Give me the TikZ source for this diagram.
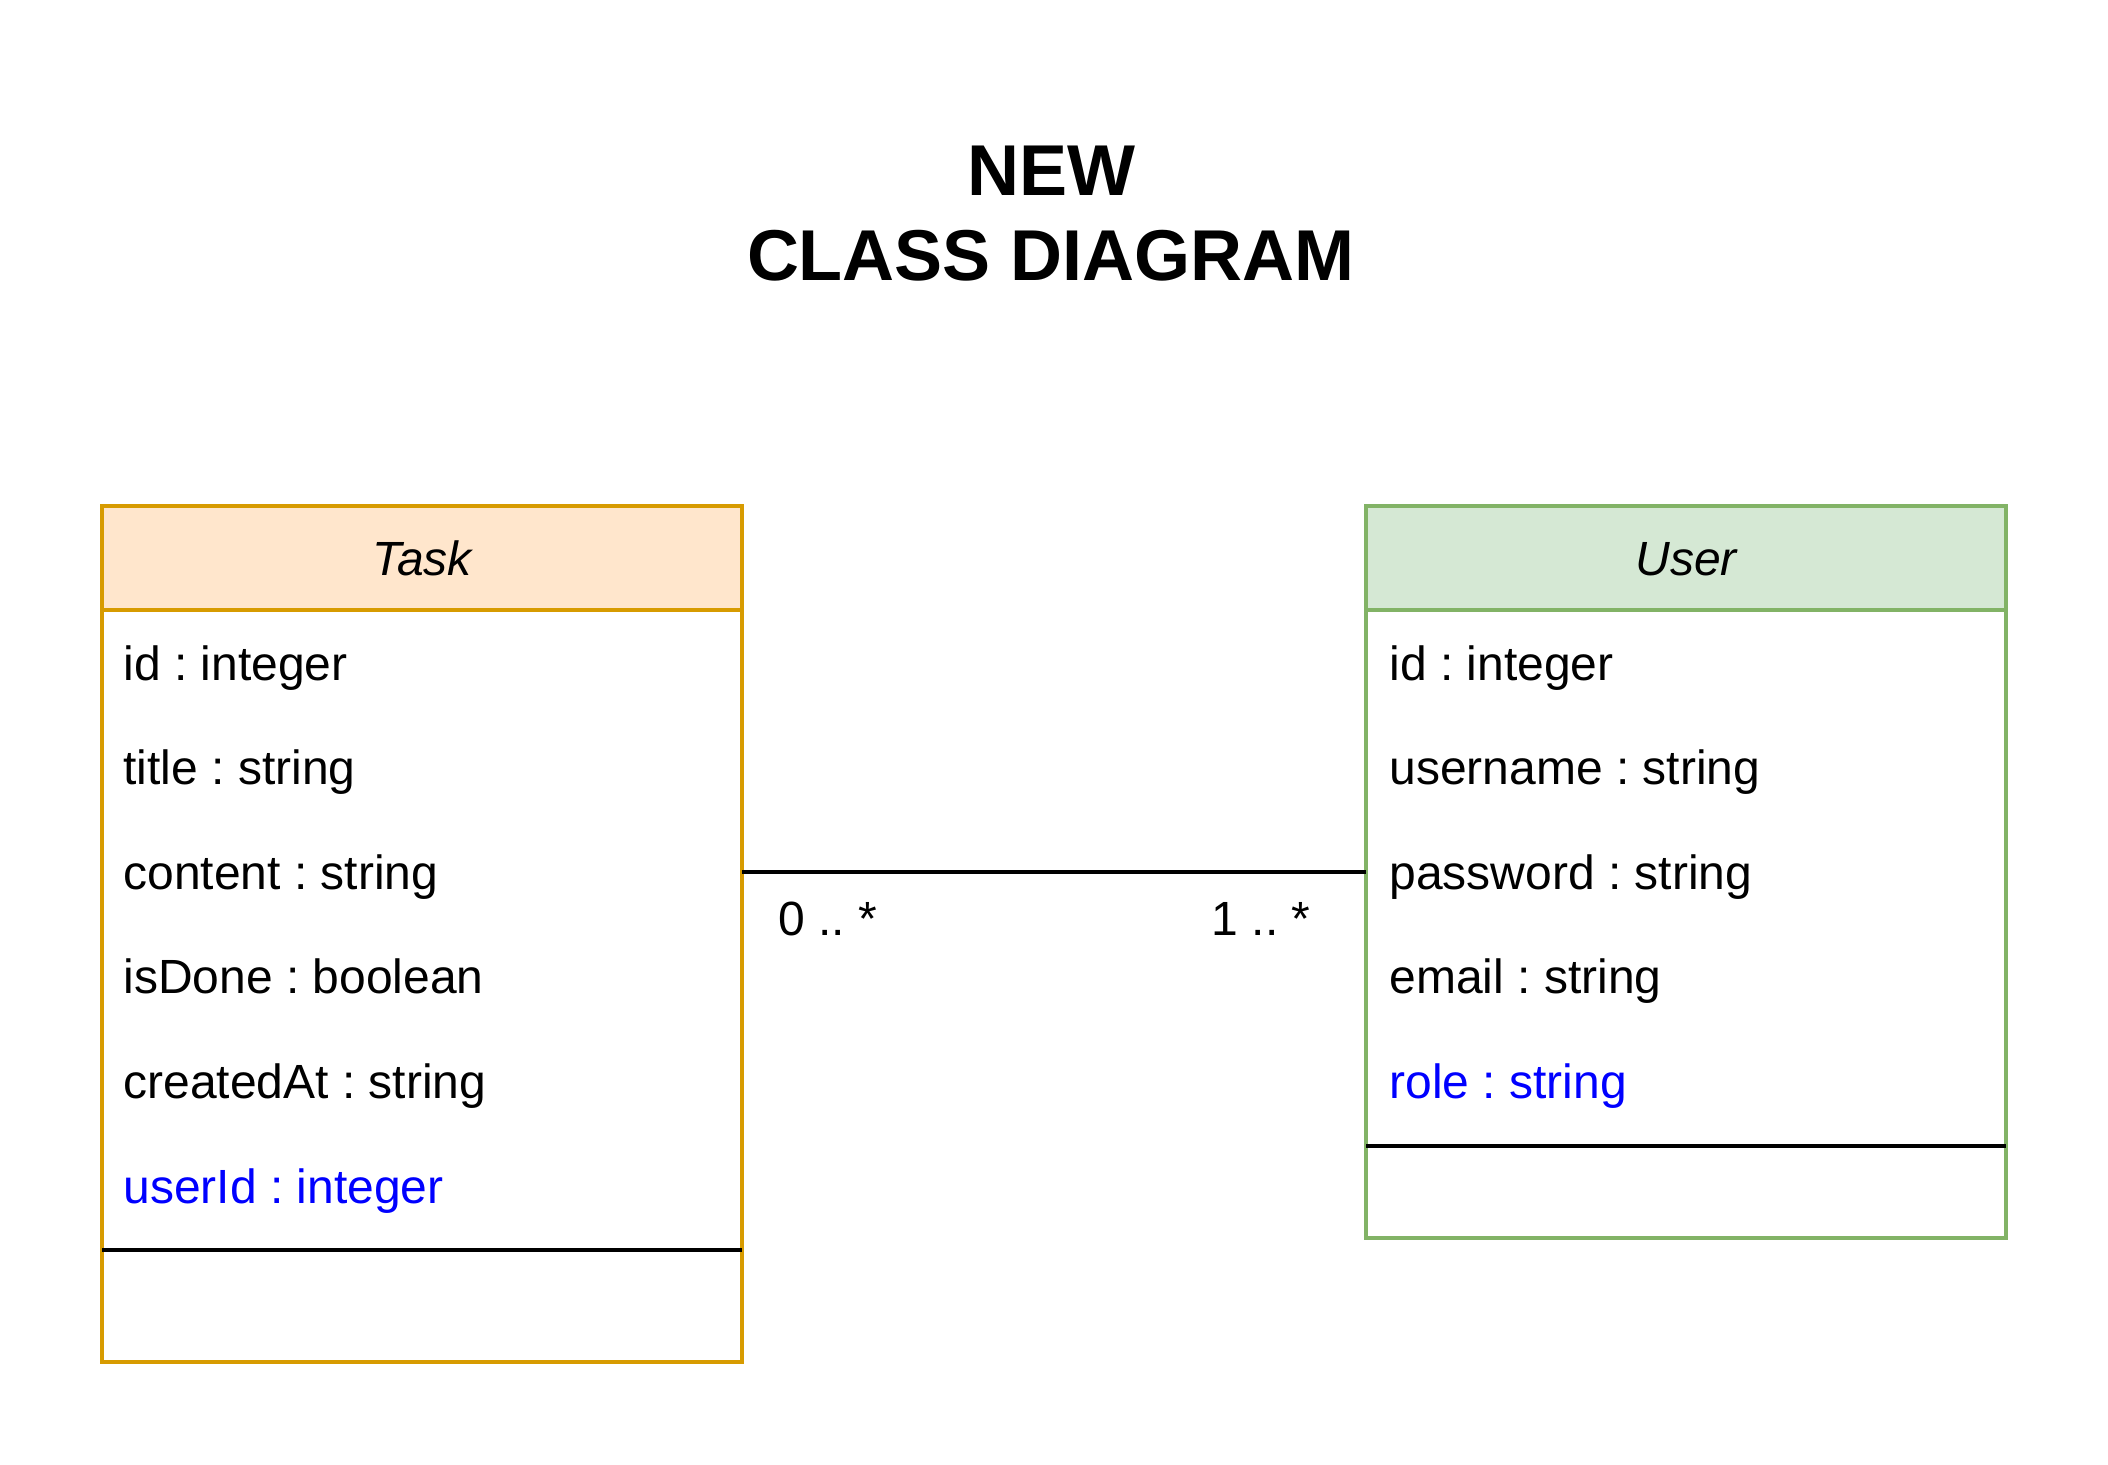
\documentclass[tikz,border=0pt]{standalone}
\usepackage{fontspec}
\setmainfont{Liberation Sans}
\usepackage{tikz}
\usetikzlibrary{positioning}
\definecolor{taskline}{HTML}{D79B00}
\definecolor{taskfill}{HTML}{FFE6CC}
\definecolor{userline}{HTML}{82B366}
\definecolor{userfill}{HTML}{D5E8D4}
\definecolor{attrblue}{HTML}{0000FF}
\frenchspacing
\tikzset{
  classbox/.style={draw, line width=2pt, minimum width=320pt, anchor=north west, inner sep=0pt, outer sep=0pt},
  classhead/.style={classbox, minimum height=52pt},
  attr/.style={anchor=base west, inner sep=0pt, font=\fontsize{24}{28}\selectfont},
  sepline/.style={line width=2pt, black},
}
\begin{document}
\begin{tikzpicture}[x=0.5pt,y=-0.5pt]
	\useasboundingbox (0,0) rectangle (2108,1464);
	\node[align=center, font=\fontsize{36}{42.5}\selectfont\bfseries] (title) at (1051,214) {NEW\\CLASS DIAGRAM};
	% Task
	\node[classbox, draw=taskline, minimum height=428pt] (task) at (102,506) {};
	\node[classhead, draw=taskline, fill=taskfill] (taskhead) at (102,506) {};
	\node[attr, anchor=base, font=\fontsize{24}{28}\selectfont\itshape] (taskname) at (422,575) {Task};
	\foreach \t [count=\i] in {id : integer, title : string, content : string, isDone : boolean, createdAt : string, {\textcolor{attrblue}{userId : integer}}}
		\node[attr] (task-\i) at (123,{680+(\i-1)*104.6}) {\t};
	\draw[sepline] (task.west |- 0,1250) -- (task.east |- 0,1250);
	% User
	\node[classbox, draw=userline, minimum height=366pt] (user) at (1366,506) {};
	\node[classhead, draw=userline, fill=userfill] (userhead) at (1366,506) {};
	\node[attr, anchor=base, font=\fontsize{24}{28}\selectfont\itshape] (username) at (1686,575) {User};
	\foreach \t [count=\i] in {id : integer, username : string, password : string, email : string, {\textcolor{attrblue}{role : string}}}
		\node[attr] (user-\i) at (1389,{680+(\i-1)*104.6}) {\t};
	\draw[sepline] (user.west |- 0,1146) -- (user.east |- 0,1146);
	% association
	\draw[line width=2pt] (task.east |- user.west) -- (user.west);
	\node[attr] (multtask) at (778,935) {0 .. *};
	\node[attr, anchor=base east] (multuser) at (1311,935) {1 .. *};
\end{tikzpicture}
\end{document}
